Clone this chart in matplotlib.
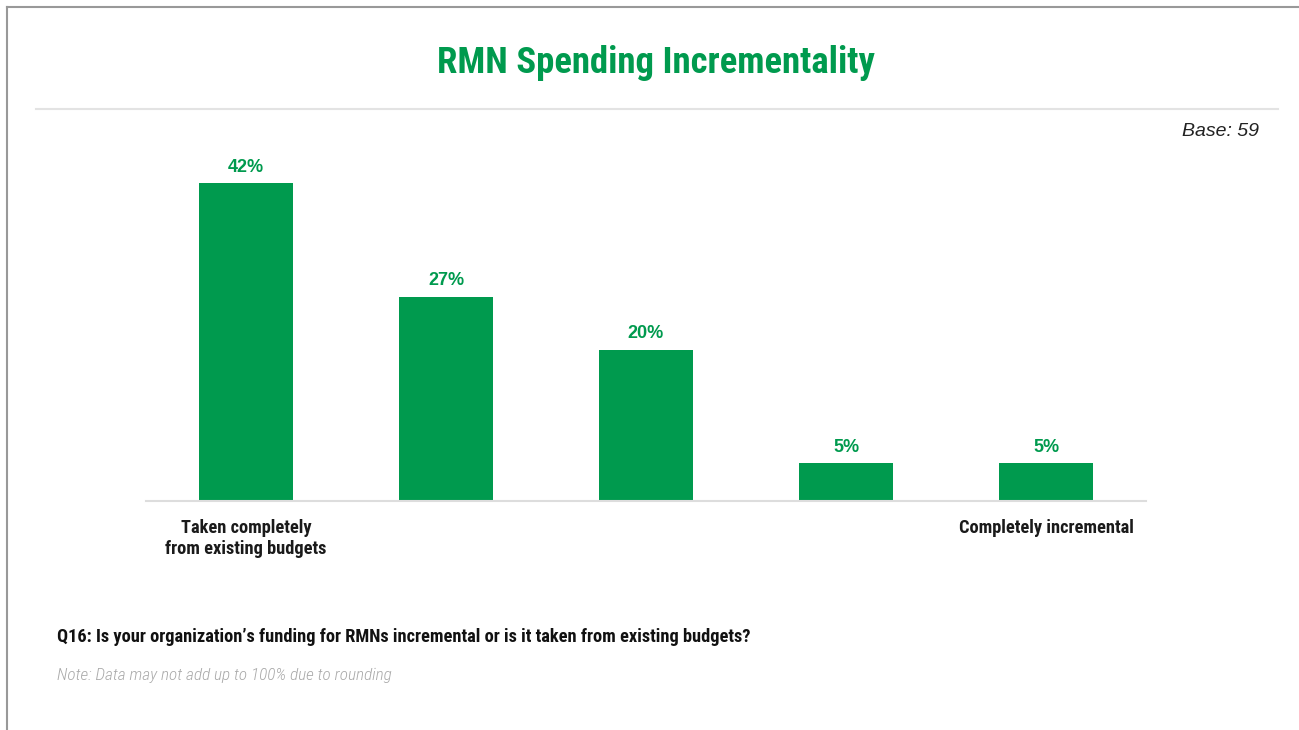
import matplotlib.pyplot as plt
from matplotlib.lines import Line2D

# survey answers, left to right
categories = ['Taken completely\nfrom existing budgets', '', '', '', 'Completely incremental']
shares = [42, 27, 20, 5, 5]

green = '#009A4E'
narrow = ['Roboto Condensed', 'DejaVu Sans']
arial = ['Liberation Sans', 'DejaVu Sans']
W, H = 1299, 730

fig = plt.figure(figsize=(W / 100, H / 100), dpi=100)
fig.patch.set_facecolor('white')

def px(x, y):
    # pixel position (from top-left) -> figure fraction
    return x / W, 1 - y / H

# frame lines along the top and left edge
fig.add_artist(Line2D([6.5 / W, 6.5 / W], [0, 1 - 6.5 / H], color='#999999', lw=1.5))
fig.add_artist(Line2D([6.5 / W, 1], [1 - 6.5 / H, 1 - 6.5 / H], color='#999999', lw=1.5))

# title and rule under it
fig.text(*px(656, 63), 'RMN Spending Incrementality', ha='center', va='center',
         color=green, fontsize=26.5, fontweight='bold', family=narrow)
fig.add_artist(Line2D([36 / W, 1278 / W], [1 - 109 / H] * 2, color='#E3E3E3', lw=1.5))

fig.text(*px(1259, 131), 'Base: 59', ha='right', va='center', fontsize=14,
         style='italic', color='#222222', family=arial)

# bar chart
ax = fig.add_axes([146 / W, 1 - 501 / H, 1000 / W, 378.6 / H])
x = range(len(shares))
bars = ax.bar(x, shares, width=0.47, color=green)
for xi, v in zip(x, shares):
    ax.text(xi, v + 0.95, f'{v}%', ha='center', va='bottom', color=green,
            fontsize=13, fontweight='bold', family=arial)
ax.set_xlim(-0.5, len(shares) - 0.5)
ax.set_ylim(0, 50)
ax.set_xticks(list(x))
ax.set_xticklabels(categories, fontsize=13.2, fontweight='bold', family=narrow,
                   color='#1a1a1a', linespacing=1.2)
ax.tick_params(axis='x', length=0, pad=13)
ax.set_yticks([])
for s in ['top', 'right', 'left']:
    ax.spines[s].set_visible(False)
ax.spines['bottom'].set_color('#DDDDDD')
ax.spines['bottom'].set_linewidth(1.5)

# question and footnote
fig.text(*px(57, 637), 'Q16: Is your organization\u2019s funding for RMNs incremental or is it taken from existing budgets?',
         ha='left', va='center', fontsize=13.2, fontweight='bold', family=narrow, color='#111111')
fig.text(*px(57, 675), 'Note: Data may not add up to 100% due to rounding', ha='left', va='center',
         fontsize=12.4, style='italic', fontweight='light', family=narrow, color='#AAAAAA')

fig.savefig('out.png', dpi=100, facecolor='white')
